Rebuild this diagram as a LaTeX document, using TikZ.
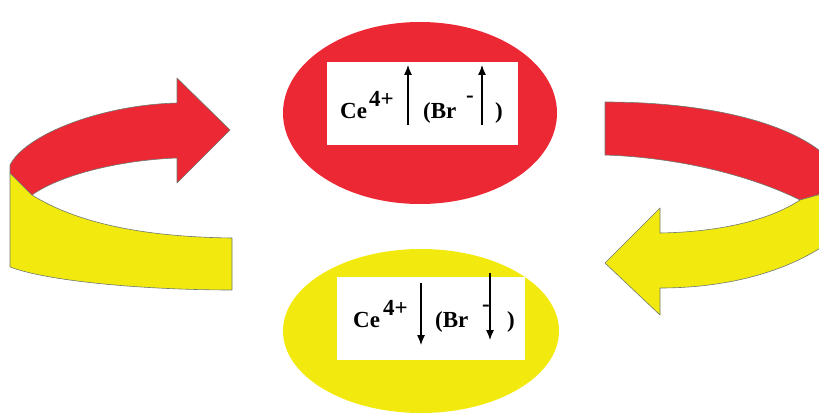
\documentclass[tikz,border=0pt]{standalone}
\usepackage{fontspec}
\setmainfont{Liberation Serif}
\usetikzlibrary{shapes.geometric,arrows.meta}
\definecolor{cered}{HTML}{EC2834}
\definecolor{ceyellow}{HTML}{F2EA0E}
\definecolor{rim}{HTML}{6E7A70}
\begin{document}
\begin{tikzpicture}[x=1pt,y=-1pt,>={Latex[length=10pt,width=8pt]}]
    \tikzstyle{blob}=[ellipse, inner sep=0pt]
    \tikzstyle{card}=[rectangle, fill=white, inner sep=0pt]
    \tikzstyle{chem}=[inner sep=0pt, anchor=base west, font=\fontsize{23}{27}\selectfont\bfseries]
    \tikzstyle{band}=[draw=rim, line width=0.6pt, line join=round]
    \tikzstyle{spin}=[->, line width=1.1pt]
    \useasboundingbox (0,0) rectangle (819,414);
    \clip (0,0) rectangle (819,414);
    % the two states
    \node[blob, fill=cered, minimum width=274pt, minimum height=182pt] (high) at (420,113) {};
    \node[blob, fill=ceyellow, minimum width=276pt, minimum height=164pt] (low) at (421,331) {};
    \node[card, minimum width=191pt, minimum height=83pt] (highcard) at (422.5,103.5) {};
    \node[card, minimum width=188pt, minimum height=83pt] (lowcard) at (431,318.5) {};
    % upper text
    \node[chem] (hce) at (340,119) {Ce};
    \node[chem] (hcharge) at (369,107) {4+};
    \node[chem] (hbr) at (423,119) {(Br};
    \node[chem] (hminus) at (466,103) {-};
    \node[chem] (hclose) at (495,119) {)};
    \coordinate (ha1) at (408,125);
    \coordinate (hb1) at (408,65);
    \coordinate (ha2) at (482,125);
    \coordinate (hb2) at (482,65);
    \draw[spin] (ha1) -- (hb1);
    \draw[spin] (ha2) -- (hb2);
    % lower text
    \node[chem] (lce) at (353,327) {Ce};
    \node[chem] (lcharge) at (383,315) {4+};
    \node[chem] (lbr) at (435,327) {(Br};
    \node[chem] (lminus) at (482,311) {-};
    \node[chem] (lclose) at (507,327) {)};
    \coordinate (la1) at (421,283);
    \coordinate (lb1) at (421,345);
    \coordinate (la2) at (490,273);
    \coordinate (lb2) at (490,340);
    \draw[spin] (la1) -- (lb1);
    \draw[spin] (la2) -- (lb2);
    % left ribbon arrow
    \filldraw[band, fill=ceyellow] (10,173) -- (32,195) .. controls (80,225) and (150,237) .. (232,238)
        -- (232,290) .. controls (150,290) and (50,282) .. (10,267) -- cycle;
    \filldraw[band, fill=cered] (177,103) .. controls (100,105) and (25,135) .. (10,165) -- (10,173)
        -- (32,195) .. controls (60,175) and (120,160) .. (177,158)
        -- (177,183) -- (230,130) -- (177,78) -- cycle;
    % right ribbon arrow
    \filldraw[band, fill=cered] (605,102) .. controls (700,102) and (785,120) .. (825,155)
        -- (825,193) -- (800,200) .. controls (760,180) and (690,158) .. (605,155) -- cycle;
    \filldraw[band, fill=ceyellow] (800,200) -- (825,193) -- (825,245)
        .. controls (780,275) and (720,288) .. (660,288) -- (660,315) -- (605,263) -- (660,208)
        -- (660,233) .. controls (720,232) and (770,220) .. (800,200) -- cycle;
\end{tikzpicture}
\end{document}
